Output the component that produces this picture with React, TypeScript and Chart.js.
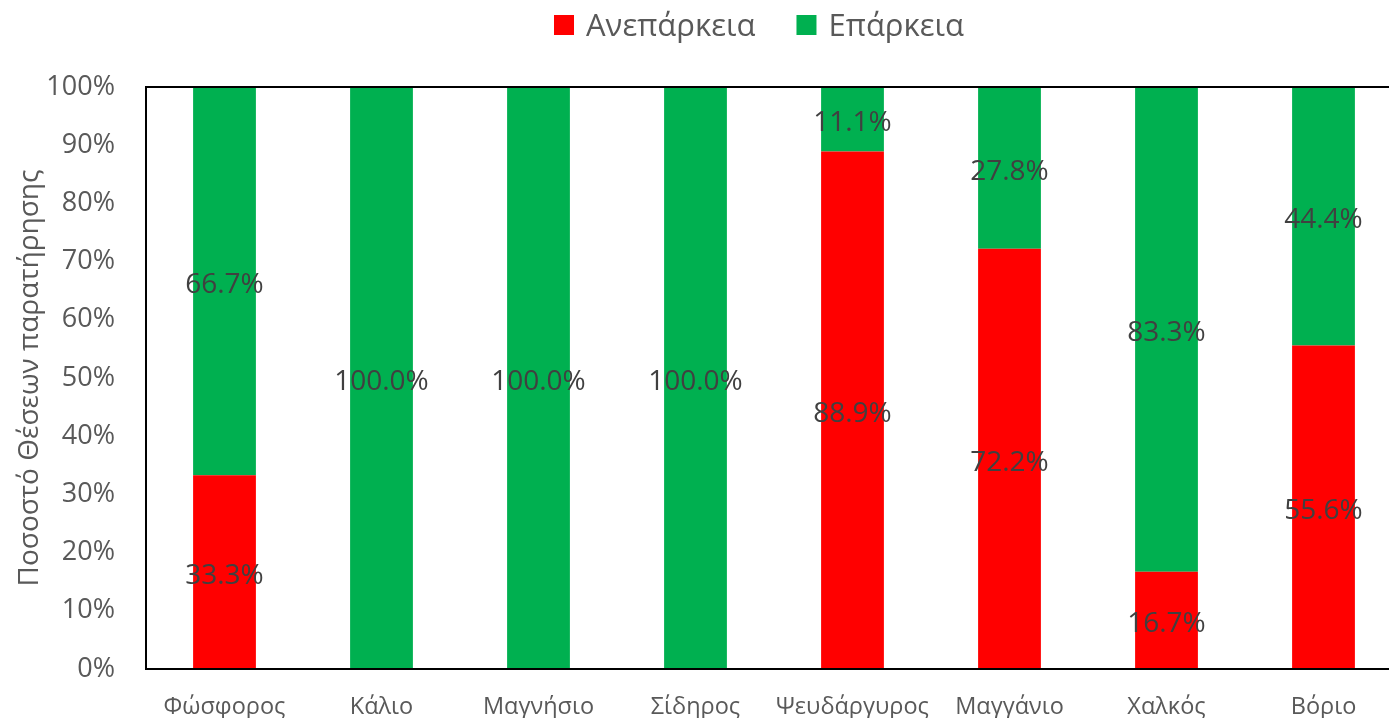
import React, { useEffect, useRef } from 'react';
import { Chart, registerables } from 'chart.js';

Chart.register(...registerables);

const categories = ['Φώσφορος', 'Κάλιο', 'Μαγνήσιο', 'Σίδηρος', 'Ψευδάργυρος', 'Μαγγάνιο', 'Χαλκός', 'Βόριο'];
const seriesNames = ['Ανεπάρκεια', 'Επάρκεια'];
const inadequacy = [33.3, 0, 0, 0, 88.9, 72.2, 16.7, 55.6];
const adequacy = [66.7, 100, 100, 100, 11.1, 27.8, 83.3, 44.4];
const yMin = 0;
const yMax = 100;
const yStep = 10;
const yTitle = 'Ποσοστό Θέσεων παρατήρησης';

const FONT = '"Open Sans", "Noto Sans", sans-serif';

const dataLabelPlugin = {
  id: 'segmentLabels',
  afterDatasetsDraw(chart: any) {
    const ctx = chart.ctx;
    ctx.save();
    ctx.font = `28px ${FONT}`;
    ctx.fillStyle = '#404040';
    ctx.textAlign = 'center';
    ctx.textBaseline = 'middle';
    chart.data.datasets.forEach((ds: any, di: number) => {
      const meta = chart.getDatasetMeta(di);
      meta.data.forEach((el: any, i: number) => {
        const v = ds.data[i];
        if (!v) return;
        const p = el.getProps(['x', 'y', 'base'], true);
        ctx.fillText(v.toFixed(1) + '%', p.x, (p.y + p.base) / 2 + 4);
      });
    });
    ctx.restore();
  },
};

const framePlugin = {
  id: 'plotFrame',
  afterDatasetsDraw(chart: any) {
    const { ctx, chartArea } = chart;
    ctx.save();
    ctx.strokeStyle = '#000000';
    ctx.lineWidth = 2;
    ctx.strokeRect(chartArea.left, chartArea.top, chartArea.right - chartArea.left, chartArea.bottom - chartArea.top);
    ctx.restore();
  },
};

const legendPlugin = {
  id: 'topLegend',
  afterDraw(chart: any) {
    const ctx = chart.ctx;
    ctx.save();
    ctx.font = `31px ${FONT}`;
    const box = 20;
    const gapText = 12;
    const gapItem = 41;
    const items = chart.data.datasets.map((ds: any) => ({ text: ds.label, color: ds.backgroundColor }));
    const widths = items.map((it: any) => box + gapText + ctx.measureText(it.text).width);
    const total = widths.reduce((a: number, b: number) => a + b, 0) + gapItem * (items.length - 1);
    let x = 759 - total / 2;
    const cy = 25;
    items.forEach((it: any, i: number) => {
      ctx.fillStyle = it.color;
      ctx.fillRect(x, cy - box / 2, box, box);
      ctx.fillStyle = '#595959';
      ctx.textAlign = 'left';
      ctx.textBaseline = 'middle';
      ctx.fillText(it.text, x + box + gapText, cy + 2);
      x += widths[i] + gapItem;
    });
    ctx.restore();
  },
};

export default function App() {
  const canvasRef = useRef<HTMLCanvasElement | null>(null);

  useEffect(() => {
    if (!canvasRef.current) return;
    const chart = new Chart(canvasRef.current, {
      type: 'bar',
      data: {
        labels: categories,
        datasets: [
          {
            label: seriesNames[0],
            data: inadequacy,
            backgroundColor: '#FF0000',
            borderWidth: 0,
            barPercentage: 0.4,
            categoryPercentage: 1,
          },
          {
            label: seriesNames[1],
            data: adequacy,
            backgroundColor: '#00B050',
            borderWidth: 0,
            barPercentage: 0.4,
            categoryPercentage: 1,
          },
        ],
      },
      options: {
        animation: false,
        responsive: true,
        maintainAspectRatio: false,
        layout: { padding: { top: 87, right: 0, bottom: 0, left: 0 } },
        plugins: {
          legend: { display: false },
          tooltip: { enabled: false },
        },
        scales: {
          x: {
            stacked: true,
            grid: { display: false, drawTicks: false },
            border: { display: false },
            ticks: {
              color: '#595959',
              font: { family: FONT, size: 23.5 },
              padding: 24,
              maxRotation: 0,
              autoSkip: false,
            },
            afterFit(scale: any) {
              scale.height = 49;
            },
          },
          y: {
            stacked: true,
            min: yMin,
            max: yMax,
            grid: { display: false, drawTicks: false },
            border: { display: false },
            ticks: {
              stepSize: yStep,
              color: '#595959',
              font: { family: FONT, size: 27 },
              padding: 31,
              callback: (v: any) => v + '%',
            },
            title: {
              display: true,
              text: yTitle,
              color: '#595959',
              font: { family: FONT, size: 28, weight: 'normal' },
              padding: { top: 13, bottom: 0 },
            },
            afterFit(scale: any) {
              scale.width = 146;
            },
          },
        },
      },
      plugins: [dataLabelPlugin, framePlugin, legendPlugin],
    });
    return () => chart.destroy();
  }, []);

  return (
    <div style={{ position: 'fixed', left: 0, top: 0, width: '1389px', height: '718px', overflow: 'hidden', background: '#fff' }}>
      <div style={{ position: 'absolute', left: 0, top: 0, width: '1402px', height: '718px' }}>
        <canvas ref={canvasRef} />
      </div>
    </div>
  );
}
